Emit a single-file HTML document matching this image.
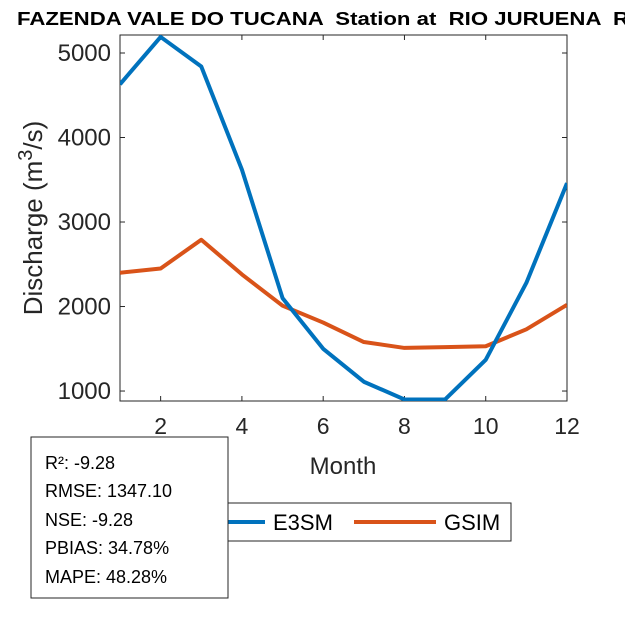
<!DOCTYPE html>
<html><head><meta charset="utf-8"><style>
body{margin:0;background:#fff;}
svg{display:block;font-family:"Liberation Sans",Arial,sans-serif;}
</style></head><body>
<svg id="chart" width="625" height="625" viewBox="0 0 625 625" xmlns="http://www.w3.org/2000/svg">
<rect width="625" height="625" fill="#fff"/>
<text x="17" y="25" font-size="18" font-weight="bold" fill="#000" style="white-space:pre" textLength="612" lengthAdjust="spacingAndGlyphs">FAZENDA VALE DO TUCANA  Station at  RIO JURUENA  R</text>
<g id="plot"></g>
<text x="343" y="474" font-size="24" fill="#262626" text-anchor="middle">Month</text>
<text transform="translate(42,218) rotate(-90)" font-size="26" fill="#262626" text-anchor="middle">Discharge (m<tspan dy="-10" font-size="20">3</tspan><tspan dy="10">/s)</tspan></text>
<g>
<rect x="200" y="503" width="311" height="38" fill="#fff" stroke="#262626" stroke-width="1"/>
<line x1="215" y1="522" x2="265" y2="522" stroke="#0072BD" stroke-width="4"/>
<text x="273" y="530" font-size="22" fill="#000">E3SM</text>
<line x1="354" y1="522" x2="436" y2="522" stroke="#D95319" stroke-width="4"/>
<text x="444" y="530" font-size="22" fill="#000">GSIM</text>
</g>
<g>
<rect x="31" y="437" width="197" height="161" fill="#fff" stroke="#262626" stroke-width="1"/>
<text font-size="18" fill="#000">
<tspan x="45" y="469">R²: -9.28</tspan>
<tspan x="45" y="497">RMSE: 1347.10</tspan>
<tspan x="45" y="526">NSE: -9.28</tspan>
<tspan x="45" y="554">PBIAS: 34.78%</tspan>
<tspan x="45" y="583">MAPE: 48.28%</tspan>
</text>
</g>
</svg>
<script>
const months=[1,2,3,4,5,6,7,8,9,10,11,12];
const e3sm=[4630,5190,4840,3620,2100,1500,1110,900,900,1370,2280,3460];
const gsim=[2400,2450,2790,2380,2010,1810,1580,1510,1520,1530,1730,2020];
const xTicks=[2,4,6,8,10,12];
const yTicks=[1000,2000,3000,4000,5000];
const NS='http://www.w3.org/2000/svg';
const L=120,R=567,T=35,B=401;
const xMin=1,xMax=12,yMin=882,yMax=5213;
const xs=v=>L+(v-xMin)/(xMax-xMin)*(R-L);
const ys=v=>B-(v-yMin)/(yMax-yMin)*(B-T);
const g=document.getElementById('plot');
function mk(t,a){const e=document.createElementNS(NS,t);for(const k in a)e.setAttribute(k,a[k]);g.appendChild(e);return e;}
const bg=mk('rect',{x:L,y:T,width:R-L,height:B-T,fill:'#fff',stroke:'#262626','stroke-width':1});


xTicks.forEach(t=>{
  const x=xs(t);
  mk('line',{x1:x,y1:B,x2:x,y2:B-5,stroke:'#262626'});
  mk('line',{x1:x,y1:T,x2:x,y2:T+5,stroke:'#262626'});
  const tx=mk('text',{x:x,y:B+33,'font-size':23,fill:'#262626','text-anchor':'middle'});
  tx.textContent=t;
  
  
});
yTicks.forEach(t=>{
  const y=ys(t);
  mk('line',{x1:L,y1:y,x2:L+5,y2:y,stroke:'#262626'});
  mk('line',{x1:R,y1:y,x2:R-5,y2:y,stroke:'#262626'});
  const tx=mk('text',{x:L-9,y:y+8,'font-size':24,fill:'#262626','text-anchor':'end'});
  tx.textContent=t;
  
  
});
const cp=document.createElementNS(NS,'clipPath');cp.id='clip';
const cr=document.createElementNS(NS,'rect');cr.setAttribute('x',L);cr.setAttribute('y',T);cr.setAttribute('width',R-L);cr.setAttribute('height',B-T);
cp.appendChild(cr);g.appendChild(cp);
function series(d,c,n){
  const p=mk('polyline',{points:d.map((v,i)=>xs(months[i])+','+ys(v)).join(' '),fill:'none',stroke:c,'stroke-width':4,'stroke-linejoin':'round','clip-path':'url(#clip)'});
  
  
}
series(gsim,'#D95319','gsim-line');
series(e3sm,'#0072BD','e3sm-line');
</script>
</body></html>
